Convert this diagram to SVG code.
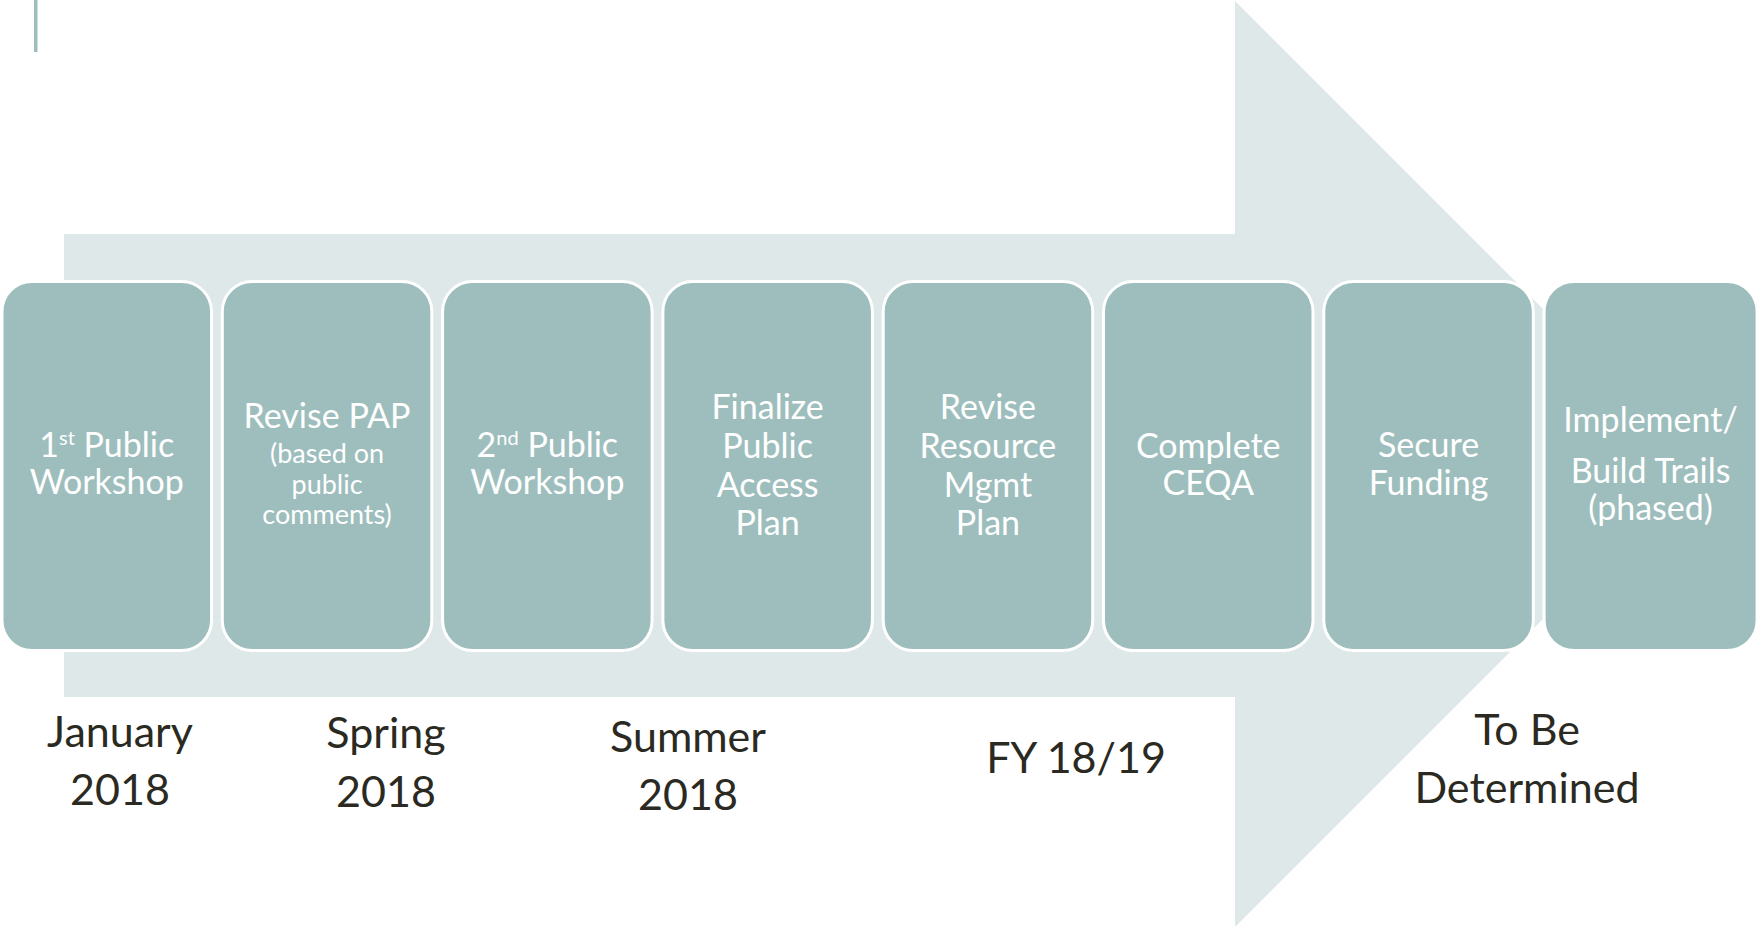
<svg xmlns="http://www.w3.org/2000/svg" width="1759" height="926" viewBox="0 0 1759 926">
  <style>
    .box { fill: #9DBEBD; stroke: #FFFFFF; stroke-width: 3; }
    .bt { font-family: Lato, "Liberation Sans", sans-serif; fill: #FFFFFF; text-anchor: middle; font-size: 34px; }
    .bs { font-size: 27px; }
    .lbl { font-family: Lato, "Liberation Sans", sans-serif; fill: #2B2A22; text-anchor: middle; font-size: 43px; }
  </style>
  <rect width="1759" height="926" fill="#FFFFFF"/>
  <rect id="accent-line" x="34" y="0" width="3.5" height="52" fill="#9DBEBD"/>
  <g id="timeline-arrow">
    <polygon points="64,234 1235,234 1235,1 1698,464 1235,927 1235,697 64,697" fill="#DEE8E8"/>
  </g>
  <g id="connectors"></g>

  <g id="node-1">
    <rect class="box" x="2" y="281.5" width="209.5" height="369" rx="30" ry="30"/>
    <text class="bt" x="106.75" y="457">1<tspan font-size="20" dy="-12">st</tspan><tspan dy="12"> Public</tspan></text>
    <text class="bt" x="106.75" y="494" font-size="35">Workshop</text>
  </g>
  <g id="node-2">
    <rect class="box" x="222.3" y="281.5" width="209.5" height="369" rx="30" ry="30"/>
    <text class="bt" x="327.05" y="428" font-size="32">Revise PAP</text>
    <text class="bt bs" x="327.05" y="463">(based on</text>
    <text class="bt bs" x="327.05" y="494">public</text>
    <text class="bt bs" x="327.05" y="524">comments)</text>
  </g>
  <g id="node-3">
    <rect class="box" x="442.6" y="281.5" width="209.5" height="369" rx="30" ry="30"/>
    <text class="bt" x="547.35" y="457">2<tspan font-size="20" dy="-12">nd</tspan><tspan dy="12"> Public</tspan></text>
    <text class="bt" x="547.35" y="494" font-size="35">Workshop</text>
  </g>
  <g id="node-4">
    <rect class="box" x="662.9" y="281.5" width="209.5" height="369" rx="30" ry="30"/>
    <text class="bt" x="767.65" y="419">Finalize</text>
    <text class="bt" x="767.65" y="458">Public</text>
    <text class="bt" x="767.65" y="497">Access</text>
    <text class="bt" x="767.65" y="535">Plan</text>
  </g>
  <g id="node-5">
    <rect class="box" x="883.2" y="281.5" width="209.5" height="369" rx="30" ry="30"/>
    <text class="bt" x="987.95" y="419">Revise</text>
    <text class="bt" x="987.95" y="458">Resource</text>
    <text class="bt" x="987.95" y="497">Mgmt</text>
    <text class="bt" x="987.95" y="535">Plan</text>
  </g>
  <g id="node-6">
    <rect class="box" x="1103.5" y="281.5" width="209.5" height="369" rx="30" ry="30"/>
    <text class="bt" x="1208.25" y="458">Complete</text>
    <text class="bt" x="1208.25" y="495">CEQA</text>
  </g>
  <g id="node-7">
    <rect class="box" x="1323.8" y="281.5" width="209.5" height="369" rx="30" ry="30"/>
    <text class="bt" x="1428.55" y="457">Secure</text>
    <text class="bt" x="1428.55" y="495">Funding</text>
  </g>
  <g id="node-8">
    <rect class="box" x="1544.1" y="281.5" width="213" height="369" rx="30" ry="30"/>
    <text class="bt" x="1650.6" y="432">Implement/</text>
    <text class="bt" x="1650.6" y="483">Build Trails</text>
    <text class="bt" x="1650.6" y="520">(phased)</text>
  </g>

  <g id="labels">
    <text class="lbl" x="120" y="747" font-size="44">January</text>
    <text class="lbl" x="120" y="805">2018</text>
    <text class="lbl" x="386" y="748">Spring</text>
    <text class="lbl" x="386" y="807">2018</text>
    <text class="lbl" x="688" y="752" font-size="42">Summer</text>
    <text class="lbl" x="688" y="810">2018</text>
    <text class="lbl" x="1076" y="773" font-size="45">FY 18/19</text>
    <text class="lbl" x="1527" y="745">To Be</text>
    <text class="lbl" x="1527" y="803">Determined</text>
  </g>
</svg>
